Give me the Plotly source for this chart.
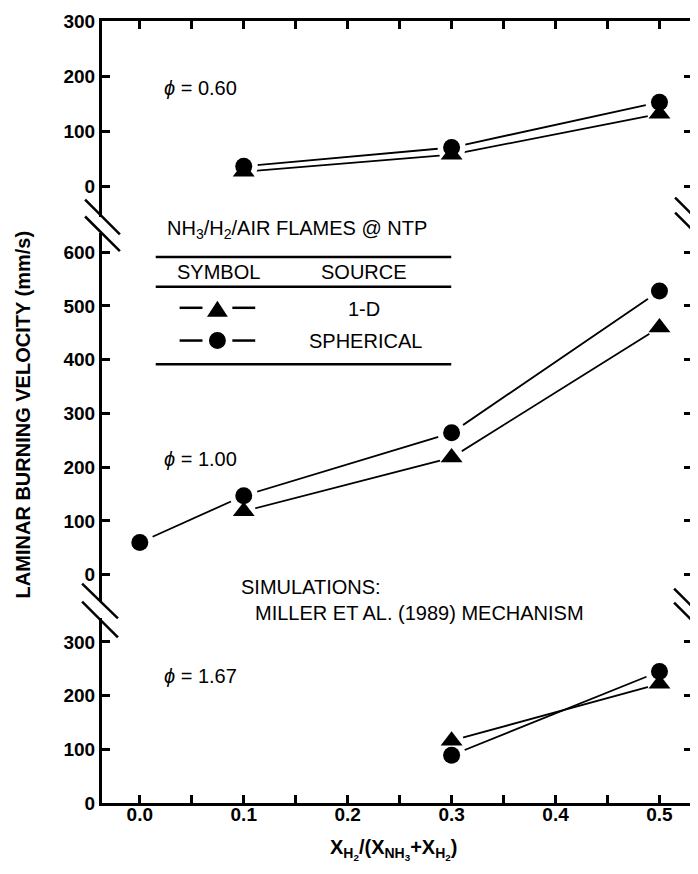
import plotly.graph_objects as go

# ---------------- data ----------------
phi060_x = [0.1, 0.3, 0.5]
phi060_1d = [27, 58, 132]
phi060_sph = [37, 71, 153]

phi100_1d_x = [0.1, 0.3, 0.5]
phi100_1d = [118, 218, 460]
phi100_sph_x = [0.0, 0.1, 0.3, 0.5]
phi100_sph = [60, 147, 264, 528]

phi167_x = [0.3, 0.5]
phi167_1d = [116, 222]
phi167_sph = [89, 245]

x_tickvals = [0.0, 0.1, 0.2, 0.3, 0.4, 0.5]
x_ticktext = ["0.0", "0.1", "0.2", "0.3", "0.4", "0.5"]
y1_ticks = [0, 100, 200, 300]
y2_ticks = [0, 100, 200, 300, 400, 500, 600]
y3_ticks = [0, 100, 200, 300]

# ---------------- layout helpers (page pixel -> paper) ----------------
PAGE_W, PAGE_H = 698, 874
OFF = 8                      # default body margin of the html page
W, H = PAGE_W - OFF, PAGE_H - 2 * OFF
L, R, T, B = 102, 695, 15, 803   # plot area in page pixels
def px(x):
    return (x - L) / (R - L)
def py(y):
    return (B - y) / (B - T)

FONT = "Liberation Sans, Arial, sans-serif"
BLACK = "black"

fig = go.Figure()

panels = [
    ("x3", "y", phi060_x, phi060_1d, phi060_x, phi060_sph),
    ("x2", "y2", phi100_1d_x, phi100_1d, phi100_sph_x, phi100_sph),
    ("x", "y3", phi167_x, phi167_1d, phi167_x, phi167_sph),
]

for xa, ya, tx, ty, cx, cy in panels:
    fig.add_trace(go.Scatter(x=tx, y=ty, mode="lines", xaxis=xa, yaxis=ya,
                             line=dict(color=BLACK, width=1.8), showlegend=False, hoverinfo="skip"))
    fig.add_trace(go.Scatter(x=cx, y=cy, mode="lines", xaxis=xa, yaxis=ya,
                             line=dict(color=BLACK, width=1.8), showlegend=False, hoverinfo="skip"))
    fig.add_trace(go.Scatter(x=tx, y=ty, mode="markers", xaxis=xa, yaxis=ya,
                             marker=dict(symbol="circle", size=24, color="white", line=dict(width=0)),
                             showlegend=False, hoverinfo="skip"))
    fig.add_trace(go.Scatter(x=cx, y=cy, mode="markers", xaxis=xa, yaxis=ya,
                             marker=dict(symbol="circle", size=28, color="white", line=dict(width=0)),
                             showlegend=False, hoverinfo="skip"))
    fig.add_trace(go.Scatter(x=tx, y=ty, mode="markers", xaxis=xa, yaxis=ya, name="1-D",
                             marker=dict(symbol="triangle-up", size=19, color=BLACK, line=dict(width=0)),
                             showlegend=False))
    fig.add_trace(go.Scatter(x=cx, y=cy, mode="markers", xaxis=xa, yaxis=ya, name="SPHERICAL",
                             marker=dict(symbol="circle", size=17, color=BLACK, line=dict(width=0)),
                             showlegend=False))

xrange = [-(140 - L) / 1044.6, (R - 140) / 1044.6]
tickfont = dict(family=FONT, size=19, color=BLACK, weight="bold")

common_x = dict(range=xrange, showgrid=False, zeroline=False, showline=True, linewidth=3,
                linecolor=BLACK, ticks="inside", ticklen=8, tickwidth=3, tickcolor=BLACK,
                tickvals=x_tickvals, ticktext=x_ticktext, ticklabeloverflow="allow",
                minor=dict(dtick=0.05, tick0=0, ticks="inside", ticklen=8, tickwidth=3, tickcolor=BLACK))

d1 = [py(212), 1.0]
d2 = [py(599), py(229)]
d3 = [0.0, py(617)]
r1 = [-(212 - 182) / 0.5567, 300]
r2 = [-(599 - 573) / 0.5417, (573 - 229) / 0.5417]
r3 = [0, (803 - 617) / 0.541]

common_y = dict(showgrid=False, zeroline=False, showline=True, linewidth=3, linecolor=BLACK,
                mirror="ticks", ticks="inside", ticklen=8, tickwidth=3, tickcolor=BLACK,
                tickfont=tickfont, anchor="x", ticklabeloverflow="allow", ticksuffix="\u00a0")

fig.update_layout(
    width=W, height=H,
    margin=dict(l=L - OFF, r=PAGE_W - R, t=T - OFF, b=(OFF + H) - B),
    paper_bgcolor="white", plot_bgcolor="white",
    showlegend=False,
    font=dict(family=FONT, color=BLACK),
    xaxis=dict(**common_x, anchor="y3", side="bottom", tickfont=tickfont, showticklabels=True,
               ticklabelstandoff=-8),
    xaxis2=dict(range=xrange, anchor="y2", matches="x", visible=False),
    xaxis3=dict(**common_x, anchor="y", side="top", showticklabels=False, matches="x"),
    yaxis=dict(**common_y, domain=d1, range=r1, tickvals=y1_ticks),
    yaxis2=dict(**common_y, domain=d2, range=r2, tickvals=y2_ticks),
    yaxis3=dict(**common_y, domain=d3, range=r3, tickvals=y3_ticks),
)

shapes = []
def seg(x0, y0, x1, y1, w=2.5):
    shapes.append(dict(type="line", xref="paper", yref="paper",
                       x0=px(x0), y0=py(y0), x1=px(x1), y1=py(y1),
                       line=dict(color=BLACK, width=w)))

# axis break marks
seg(85, 195, 120, 230); seg(85, 212, 120, 247)
seg(678, 193, 713, 228); seg(678, 208, 713, 243)
seg(82, 582, 118, 617); seg(82, 600, 118, 636)
seg(677, 587, 712, 622); seg(677, 601, 712, 636)

# legend table
for yy in (252.7, 282.7, 361):
    seg(156, yy, 453, yy, 2.5)
for yy in (304, 337):
    seg(180, yy, 203, yy, 2.5)
    seg(233, yy, 256, yy, 2.5)
shapes.append(dict(type="path", xref="paper", yref="paper",
                   path=f"M {px(207.5)},{py(313)} L {px(228.5)},{py(313)} L {px(218)},{py(297)} Z",
                   fillcolor=BLACK, line=dict(width=0)))
shapes.append(dict(type="circle", xref="paper", yref="paper",
                   x0=px(209.5), x1=px(226.5), y0=py(345.5), y1=py(328.5),
                   fillcolor=BLACK, line=dict(width=0)))
fig.update_layout(shapes=shapes)

ann = []
def text(x, y, s, size=20, xanchor="left", bold=False, angle=0):
    ann.append(dict(x=px(x), y=py(y), xref="paper", yref="paper", text=s, showarrow=False,
                    xanchor=xanchor, yanchor="middle", textangle=angle,
                    font=dict(family=FONT, size=size, color=BLACK, weight="bold" if bold else "normal")))

text(162, 83, "<i>ϕ</i> = 0.60")
text(162, 456, "<i>ϕ</i> = 1.00")
text(162, 675, "<i>ϕ</i> = 1.67")
text(165, 225, "NH<sub>3</sub>/H<sub>2</sub>/AIR FLAMES @ NTP")
text(219, 268, "SYMBOL", xanchor="center")
text(365, 268, "SOURCE", xanchor="center")
text(365, 305, "1-D", xanchor="center")
text(367, 337, "SPHERICAL", xanchor="center")
text(240, 585, "SIMULATIONS:")
text(254, 612, "MILLER ET AL. (1989) MECHANISM")
text(23, 412, "LAMINAR BURNING VELOCITY (mm/s)", size=20, xanchor="center", bold=True, angle=-90)
text(395, 850, "X<sub>H<sub>2</sub></sub>/(X<sub>NH<sub>3</sub></sub>+X<sub>H<sub>2</sub></sub>)",
     size=20, xanchor="center", bold=True)
fig.update_layout(annotations=ann)

fig.write_html("out.html")
